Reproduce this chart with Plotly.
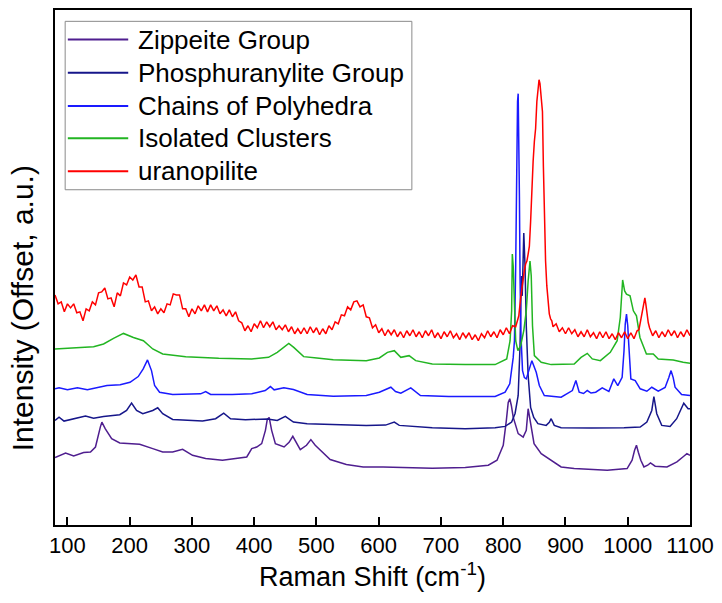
import plotly.graph_objects as go

# Raman spectra, stacked with vertical offsets (a.u.)
zippeite_shift = [80, 97, 110, 126, 137, 145, 152.8, 155.3, 160.6, 171, 184, 200, 216, 237, 253, 269, 285, 301,
                  322, 349, 370, 388, 396, 404, 412, 418, 421, 424, 428, 434, 448, 456, 462, 468, 474, 484, 491,
                  498, 506, 522, 548, 575, 607, 633, 686, 739, 776, 790, 800, 805, 808, 810.5, 813, 816, 824,
                  832, 837, 840, 844, 849.5, 861, 877, 893, 914, 967, 999, 1007, 1011, 1014, 1017, 1021, 1026,
                  1032, 1036.5, 1044, 1063, 1079, 1090, 1095, 1100]
zippeite_int = [67.7, 72.3, 69.3, 72.7, 73.3, 78.3, 98.3, 103.3, 96.7, 86.7, 82.3, 81.7, 81, 76.7, 73.3, 73.3, 76,
                70, 66.7, 65, 66.7, 68.3, 76.7, 78.3, 81.7, 95, 106, 108, 95, 81.7, 78.3, 83, 89, 82, 75.7, 80,
                85.7, 80, 75, 65.7, 60.7, 58.3, 58.3, 57.7, 57, 57.7, 60, 65, 80, 105, 123, 126.7, 120, 108.3,
                91.7, 88.3, 95, 116.7, 101.7, 81.7, 71.7, 65, 58.3, 56.7, 55, 56.7, 65, 75, 80, 73, 65, 58.3,
                60, 62.3, 59, 58.3, 63.3, 69, 71.7, 70]

phosphuranylite_shift = [80, 86.5, 94.5, 110, 129, 142, 158, 184, 195, 203, 211, 221, 237, 245, 253, 269, 290, 317,
                         338, 351, 362, 386, 421, 437, 450, 463, 485, 527, 580, 611, 625, 633, 686, 739, 787,
                         803, 813.5, 819, 824, 827, 829, 830.5, 833, 835, 837, 840, 844, 849, 855.7, 869, 874,
                         877, 882, 893, 941, 994, 1020, 1030.7, 1038.6, 1042, 1046.6, 1054.6, 1068, 1078.6,
                         1086.5, 1090, 1097, 1100]
phosphuranylite_int = [105, 108.3, 104.3, 106.7, 109.3, 107.3, 109, 110.7, 115, 122.3, 115, 111.7, 115, 117.7,
                       111.7, 106, 105, 104.3, 106.7, 112.3, 106.7, 105.7, 106.5, 105, 109, 103.3, 101.7, 101,
                       100, 100.3, 103.3, 100, 97.7, 96.7, 97.7, 99, 103.3, 112, 130, 180, 250, 230, 293, 260,
                       200, 150, 118, 108, 101.7, 100, 103, 106.7, 100, 97.7, 97.3, 97.7, 98.3, 103.3, 115,
                       129, 111.7, 100, 99, 106.7, 118.3, 122.3, 116.7, 116.7]

chains_shift = [80, 86.5, 100, 116, 132, 147.6, 163.5, 184.7, 200.5, 213.7, 221.7, 228.6, 235, 240, 248, 269, 301,
                314, 322, 330, 364.6, 396, 417.7, 421, 426, 432, 447.6, 463, 485, 527, 580, 601, 619.5, 627,
                635.5, 651.5, 667, 712.5, 770, 787, 803, 810.5, 816, 818, 820, 821.5, 823, 824, 825, 826, 827,
                828.5, 831, 834, 837, 842, 846, 853, 858, 866, 893, 911, 916.7, 922, 929, 935, 941, 948.5, 959,
                969.7, 977.6, 984, 991, 994, 996, 998, 1000, 1001.6, 1005, 1012, 1020, 1030.7, 1038.6, 1049,
                1060, 1066, 1069.6, 1073, 1076, 1086.5, 1100]
chains_int = [136.7, 137.7, 135.7, 137.7, 135.7, 137.7, 140, 140.7, 143.3, 149, 156.7, 165.7, 155, 140, 133.3,
              131, 131, 131.7, 134, 131, 131, 131.7, 135, 136.7, 139, 135.7, 137.7, 136, 131, 129.3, 130,
              133.3, 138.3, 134, 132.3, 137.7, 130, 129, 129, 129, 133.3, 141.7, 168, 185, 260, 360, 425, 433,
              400, 330, 250, 190, 155, 148, 146.7, 158, 165, 153.3, 140, 130, 128.3, 135, 145, 133.3, 132, 135,
              132.5, 133.3, 137.7, 134, 146.7, 140, 148.3, 175, 201.7, 211.7, 200, 181.7, 146.7, 145, 136.7,
              134.3, 138.3, 134.3, 138, 148, 155, 148, 138.3, 131, 130]

isolated_shift = [80, 100, 121, 142, 158, 174, 190, 206, 222, 237, 253, 290, 343, 396, 423, 437, 447.6, 455.5,
                  463.5, 479.4, 500.6, 527, 580, 601, 614, 625, 635.5, 648.8, 659.4, 686, 739, 787, 805.6, 811,
                  813.5, 814.6, 816, 818, 820, 823.5, 828, 833, 837, 840, 843, 845, 847, 850, 861, 877, 914,
                  925, 935, 943, 956, 972, 983, 988, 991.8, 995, 998, 1003.7, 1009, 1014, 1019.6, 1030, 1041,
                  1049, 1073, 1089, 1100]
isolated_int = [176.7, 177.7, 178.3, 179, 181.7, 187.3, 192.3, 188.3, 185, 176.7, 171.7, 169, 167.3, 166.7,
                168.3, 173.3, 179, 182.3, 178.3, 169, 167.7, 166, 165, 167.7, 173.3, 175, 168.3, 170, 165,
                161.7, 161, 161, 166.7, 185, 215, 272, 260, 210, 185, 175, 180, 195, 215, 245, 265, 250, 200,
                170, 163.3, 161, 161.7, 168.3, 172.3, 166.7, 165, 173.3, 185, 208.3, 246, 235, 231.7, 230,
                215, 210, 188.3, 171.7, 171.7, 166.7, 165.7, 163.3, 162.3]

uranopilite_shift = [80, 85, 90, 95, 100, 105, 110, 115, 120, 125,
                     130, 135, 140, 145, 150, 155, 160, 165, 170, 175,
                     180, 185, 190, 195, 200, 205, 210, 215, 220, 225,
                     230, 235, 240, 245, 250, 255, 260, 265, 270, 275,
                     280, 285, 290, 295, 300, 305, 310, 315, 320, 325,
                     330, 335, 340, 345, 350, 355, 360, 365, 370, 375,
                     380, 385, 390, 395, 400, 405, 410, 415, 420, 425,
                     430, 435, 440, 445, 450, 455, 460, 465, 470, 475,
                     480, 485, 490, 495, 500, 505, 510, 515, 520, 525,
                     530, 535, 540, 545, 550, 555, 560, 565, 570, 575,
                     580, 585, 590, 595, 600, 605, 610, 615, 620, 625,
                     630, 635, 640, 645, 650, 655, 660, 665, 670, 675,
                     680, 685, 690, 695, 700, 705, 710, 715, 720, 725,
                     730, 735, 740, 745, 750, 755, 760, 765, 770, 775,
                     780, 785, 790, 795, 800, 805, 810, 815, 820, 825,
                     828, 830, 832, 834, 836, 838, 840, 842, 844, 846, 848, 850, 852, 854, 856, 857.5,
                     859, 861, 863, 864.5, 866, 868, 870, 872, 874, 876, 878, 880,
                     885, 890, 895, 900, 905, 910, 915, 920, 925, 930,
                     935, 940, 945, 950, 955, 960, 965, 970, 975, 980,
                     985, 990, 995, 1000, 1005, 1010, 1015,
                     1018, 1020, 1022, 1024, 1026, 1027.5, 1029, 1031, 1033, 1035,
                     1040, 1045, 1050, 1055, 1060, 1065, 1070, 1075, 1080, 1085, 1090, 1095, 1100]
uranopilite_int = [231, 222, 224, 214, 222, 218, 222, 213, 214, 205,
                   217, 215, 224, 221, 233, 234, 238, 227, 228, 219,
                   233, 230, 243, 241, 249, 246, 251, 239, 239, 224,
                   225, 215, 219, 212, 217, 213, 222, 221, 232, 231,
                   231, 217, 217, 209, 217, 212, 220, 215, 221, 214,
                   221, 215, 220, 212, 216, 210, 216, 209, 214, 205,
                   203, 195, 200, 194, 202, 198, 205, 198, 204, 199,
                   204, 196, 200, 196, 201, 194, 199, 192, 197, 192,
                   198, 192, 199, 193, 198, 191, 197, 192, 200, 196,
                   204, 202, 211, 210, 219, 216, 224, 225, 219, 221,
                   209, 208, 198, 201, 193, 197, 190, 196, 191, 196,
                   189, 194, 188, 195, 190, 196, 189, 194, 188, 195,
                   190, 196, 188, 193, 187, 194, 189, 195, 188, 192,
                   186, 193, 188, 193, 186, 191, 185, 192, 188, 195,
                   189, 194, 188, 196, 191, 198, 192, 200, 199, 210,
                   228, 238, 245, 256, 262, 265, 272, 280, 305, 340, 365, 385, 398, 425, 440, 447,
                   443, 432, 415, 360, 300, 265, 240, 222, 212, 207, 205, 199,
                   202, 194, 198, 192, 198, 192, 196, 189, 194, 189,
                   196, 189, 193, 187, 194, 188, 194, 187, 192, 186,
                   193, 188, 194, 187, 193, 187, 195,
                   196, 203, 212, 220, 226, 228, 222, 210, 203, 198,
                   190, 195, 188, 194, 189, 196, 190, 195, 188, 194, 189, 196, 190]

series_names = ["Zippeite Group", "Phosphuranylite Group", "Chains of Polyhedra",
                "Isolated Clusters", "uranopilite"]
series_colors = ["#4f1e8f", "#16168a", "#1a1aff", "#22b522", "#ff0000"]
series_data = [
    (zippeite_shift, zippeite_int),
    (phosphuranylite_shift, phosphuranylite_int),
    (chains_shift, chains_int),
    (isolated_shift, isolated_int),
    (uranopilite_shift, uranopilite_int),
]

FONT = "Arial, 'Liberation Sans', sans-serif"

fig = go.Figure()
for name, color, (xs, ys) in zip(series_names, series_colors, series_data):
    fig.add_trace(go.Scatter(x=xs, y=ys, mode="lines", name=name,
                             line=dict(color=color, width=1.5), showlegend=False))

# Legend panel drawn in paper coordinates
shapes = [dict(type="rect", xref="paper", yref="paper", x0=0.016, x1=0.562, y0=0.651, y1=0.978,
               line=dict(color="#8a8a8a", width=1), fillcolor="white", layer="above")]
annotations = []
row_y = [0.9426, 0.8781, 0.8137, 0.7511, 0.6867]
for name, color, yy in zip(series_names, series_colors, row_y):
    shapes.append(dict(type="line", xref="paper", yref="paper", x0=0.0202, x1=0.1153, y0=yy, y1=yy,
                       line=dict(color=color, width=2), layer="above"))
    annotations.append(dict(xref="paper", yref="paper", x=0.1273, y=yy, xanchor="left", yanchor="middle",
                            text=name, showarrow=False, font=dict(family=FONT, size=26, color="black")))

# Vertical axis title
annotations.append(dict(xref="paper", yref="paper", x=-0.051, y=0.42, xanchor="center", yanchor="middle",
                        textangle=-90, text="Intensity (Offset, a.u.)", showarrow=False,
                        font=dict(family=FONT, size=30, color="black")))

fig.update_layout(
    width=722, height=603,
    margin=dict(l=55, r=25, t=8, b=78),
    plot_bgcolor="white", paper_bgcolor="white",
    font=dict(family=FONT, color="black"),
    shapes=shapes, annotations=annotations,
    xaxis=dict(range=[80, 1100], tick0=100, dtick=100, ticks="inside", ticklen=8, tickwidth=1.5,
               tickcolor="black", showline=True, linecolor="black", linewidth=1.5, mirror=True,
               showgrid=False, zeroline=False, tickfont=dict(size=22, family=FONT),
               title=dict(text="Raman Shift (cm<sup>-1</sup>)", font=dict(size=27, family=FONT), standoff=10)),
    yaxis=dict(range=[0, 517], showticklabels=False, ticks="", showline=True, linecolor="black",
               linewidth=1.5, mirror=True, showgrid=False, zeroline=False),
)

fig.write_html("out.html")
